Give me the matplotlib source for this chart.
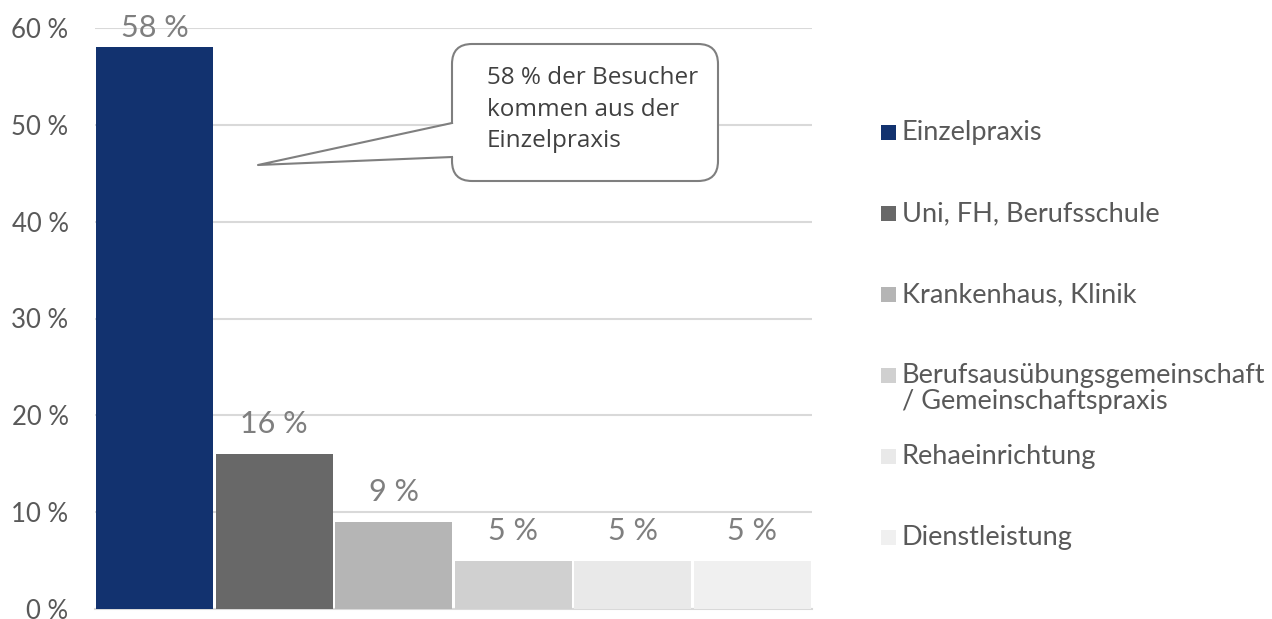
import matplotlib.pyplot as plt
from matplotlib.patches import FancyBboxPatch, Polygon, Rectangle
from matplotlib.lines import Line2D
from matplotlib.transforms import Affine2D

categories = ['Einzelpraxis', 'Uni, FH, Berufsschule', 'Krankenhaus, Klinik',
              'Berufsausübungsgemeinschaft\n/ Gemeinschaftspraxis',
              'Rehaeinrichtung', 'Dienstleistung']
values = [58, 16, 9, 5, 5, 5]
colors = ['#12326F', '#686868', '#B5B5B5', '#D0D0D0', '#E9E9E9', '#F0F0F0']
yticks = [0, 10, 20, 30, 40, 50, 60]
callout_text = '58 % der Besucher\nkommen aus der\nEinzelpraxis'

W, H = 1272, 619
fig = plt.figure(figsize=(W / 100, H / 100), dpi=100)
ax = fig.add_axes([95 / W, 10 / H, 717 / W, 581 / H])

x = range(len(values))
ax.bar(x, values, width=0.975, color=colors, zorder=3)
for xi, v in zip(x, values):
    # labels sit above the bars but stay inside the plot area
    ax.text(xi, min(v + 3.1, 60), f'{v} %', ha='center', va='center',
            fontsize=22, color='#7F7F7F', family='Lato', zorder=4)

ax.set_xlim(-0.5, len(values) - 0.5)
ax.set_ylim(0, 60)
ax.set_yticks(yticks)
ax.set_yticklabels([f'{t} %' for t in yticks], family='Lato', fontsize=18.5,
                   color='#595959')
ax.set_xticks([])
ax.tick_params(axis='y', length=0, pad=19)
ax.grid(axis='y', color='#D9D9D9', linewidth=1.5, zorder=0)
for s in ['top', 'right', 'left']:
    ax.spines[s].set_visible(False)
ax.spines['bottom'].set_color('#D9D9D9')
ax.spines['bottom'].set_linewidth(1.5)

# pixel coordinates, y from top
px = Affine2D().scale(1 / W, -1 / H).translate(0, 1) + fig.transFigure

# legend, one entry every 81 px
for i, (lab, c) in enumerate(zip(categories, colors)):
    yc = 132 + 81 * i
    fig.patches.append(Rectangle((881, yc - 7), 15, 15, transform=px,
                                 facecolor=c, edgecolor='none'))
    fig.text(902 / W, 1 - (yc - 12) / H, lab, ha='left', va='top',
             fontsize=19.5, family='Lato', color='#595959', linespacing=1.05)

# callout
box = FancyBboxPatch((452, 44), 266, 137, boxstyle='round,pad=0,rounding_size=20',
                     transform=px, facecolor='white', edgecolor='#7F7F7F',
                     linewidth=1.5, zorder=5)
fig.patches.append(box)
wedge = Polygon([(456, 123), (258, 165), (456, 157)], closed=True,
                transform=px, facecolor='white', edgecolor='none', zorder=6)
fig.patches.append(wedge)
fig.lines.append(Line2D([452, 258, 452], [123, 165, 157], transform=px,
                        color='#7F7F7F', linewidth=1.5, zorder=7))
fig.text(487 / W, 1 - 66 / H, callout_text, ha='left', va='top', fontsize=17.5,
         family='Open Sans', color='#404040', linespacing=1.42, zorder=8)

fig.savefig('out.png', dpi=100)
